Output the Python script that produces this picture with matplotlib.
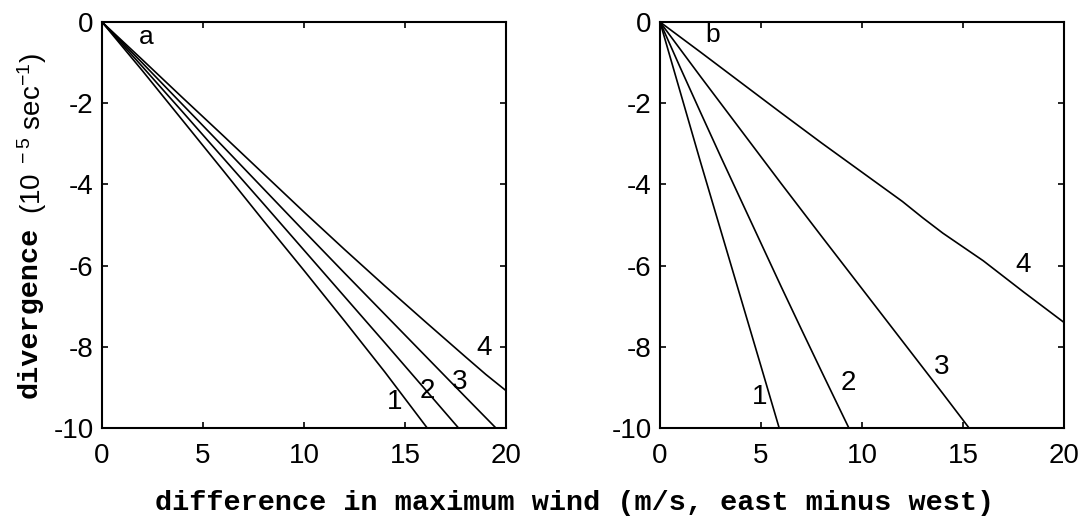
import matplotlib
matplotlib.use("Agg")
import matplotlib.pyplot as plt

# ---- data ----
# panel a
a1_x = [0, 2, 4, 6, 8, 10, 12, 14, 16.1]
a1_y = [0, -1.20, -2.43, -3.66, -4.90, -6.12, -7.36, -8.62, -10.0]
a2_x = [0, 2, 4, 6, 8, 10, 12, 14, 16, 17.65]
a2_y = [0, -1.10, -2.22, -3.35, -4.48, -5.62, -6.76, -7.90, -9.05, -10.0]
a3_x = [0, 2, 4, 6, 8, 10, 12, 14, 16, 18, 19.5]
a3_y = [0, -1.01, -2.04, -3.07, -4.11, -5.15, -6.18, -7.20, -8.22, -9.24, -10.0]
a4_x = [0, 2, 4, 6, 8, 10, 12, 14, 16, 18, 19, 20]
a4_y = [0, -0.93, -1.87, -2.80, -3.74, -4.68, -5.60, -6.50, -7.38, -8.25, -8.68, -9.08]

# panel b
b1_x = [0, 1, 2, 3, 4, 5, 5.9]
b1_y = [0, -1.72, -3.44, -5.12, -6.80, -8.48, -10.0]
b2_x = [0, 1, 2, 3, 4, 5, 6, 7, 8, 9, 9.35]
b2_y = [0, -1.12, -2.22, -3.31, -4.38, -5.45, -6.52, -7.57, -8.61, -9.64, -10.0]
b3_x = [0, 2, 4, 6, 8, 10, 12, 14, 15.3]
b3_y = [0, -1.34, -2.66, -3.98, -5.28, -6.57, -7.86, -9.15, -10.0]
b4_x = [0, 2, 4, 6, 8, 10, 12, 13, 14, 16, 18, 20]
b4_y = [0, -0.74, -1.49, -2.24, -2.98, -3.70, -4.42, -4.82, -5.20, -5.88, -6.65, -7.40]

panel_a = [(a1_x, a1_y), (a2_x, a2_y), (a3_x, a3_y), (a4_x, a4_y)]
panel_b = [(b1_x, b1_y), (b2_x, b2_y), (b3_x, b3_y), (b4_x, b4_y)]

curve_names = ["1", "2", "3", "4"]
labels_a = [(14.5, -9.36), (16.1, -9.1), (17.7, -8.87), (18.9, -8.03)]
labels_b = [(4.95, -9.23), (9.3, -8.9), (13.96, -8.5), (17.97, -5.98)]

xticks = [0, 5, 10, 15, 20]
yticks = [0, -2, -4, -6, -8, -10]

plt.rcParams["font.family"] = ["Liberation Sans", "DejaVu Sans"]
plt.rcParams["mathtext.default"] = "regular"

W, H = 1085, 518
fig = plt.figure(figsize=(W / 100, H / 100), dpi=100)

ax_a = fig.add_axes([102 / W, 90 / H, 404 / W, 406 / H])
ax_b = fig.add_axes([660 / W, 90 / H, 404 / W, 406 / H])


def setup(ax, curves, labels, tag, tag_pos):
    for x, y in curves:
        ax.plot(x, y, color="black", lw=1.2)
    for name, (tx, ty) in zip(curve_names, labels):
        ax.text(tx, ty, name, fontsize=20, ha="center", va="center")
    ax.text(tag_pos[0], tag_pos[1], tag, fontsize=19, ha="center", va="center")
    ax.set_xlim(0, 20)
    ax.set_ylim(-10, 0)
    ax.set_xticks(xticks)
    ax.set_yticks(yticks)
    ax.set_yticklabels([str(v) for v in yticks])
    ax.tick_params(direction="in", length=4, width=1.2, top=True, right=True,
                   labelsize=20)
    ax.tick_params(axis="x", pad=11)
    ax.tick_params(axis="y", pad=6)
    for s in ax.spines.values():
        s.set_linewidth(1.5)


setup(ax_a, panel_a, labels_a, "a", (2.2, -0.37))
setup(ax_b, panel_b, labels_b, "b", (2.6, -0.32))

# x label spanning both panels
mono = dict(family=["Liberation Mono", "DejaVu Sans Mono"], fontweight="bold", fontsize=20.5)
fig.text(575 / W, 1 - 503 / H, "difference in maximum wind (m/s, east minus west)",
         ha="center", va="center", **mono)

# y label: bold mono word + sans units
fig.text(30 / W, 1 - 398 / H, "divergence", rotation=90, rotation_mode="anchor",
         ha="left", va="center", **mono)
fig.text(32 / W, 1 - 214 / H, "(10$^{\\ -5}$ sec$^{-1}$)", rotation=90,
         rotation_mode="anchor", ha="left", va="center", fontsize=20)

fig.savefig("out.png", dpi=100)
